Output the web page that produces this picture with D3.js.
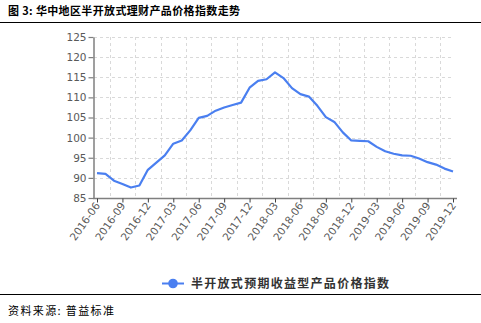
<!DOCTYPE html>
<html><head><meta charset="utf-8">
<script src="https://cdn.jsdelivr.net/npm/d3@7"></script>
<style>
html,body{margin:0;padding:0;background:#fff;}
svg{display:block;}
</style>
</head><body>
<svg id="c" width="481" height="323"></svg>
<script>
const titleText = "图 3: 华中地区半开放式理财产品价格指数走势";
const sourceText = "资料来源: 普益标准";
const seriesName = "半开放式预期收益型产品价格指数";
const months = [
 "2016-06","2016-07","2016-08","2016-09","2016-10","2016-11","2016-12",
 "2017-01","2017-02","2017-03","2017-04","2017-05","2017-06","2017-07","2017-08","2017-09","2017-10","2017-11","2017-12",
 "2018-01","2018-02","2018-03","2018-04","2018-05","2018-06","2018-07","2018-08","2018-09","2018-10","2018-11","2018-12",
 "2019-01","2019-02","2019-03","2019-04","2019-05","2019-06","2019-07","2019-08","2019-09","2019-10","2019-11","2019-12"];
const values = [
 91.2,91.0,89.3,88.5,87.6,88.1,92.0,
 93.8,95.6,98.5,99.3,101.8,104.9,105.4,106.7,107.5,108.1,108.7,112.4,
 114.1,114.5,116.2,114.8,112.3,110.8,110.2,107.9,105.1,103.9,101.3,99.3,
 99.2,99.1,97.7,96.6,96.0,95.6,95.5,94.8,93.9,93.3,92.3,91.6];
const tickLabels = ["2016-06","2016-09","2016-12","2017-03","2017-06","2017-09","2017-12",
 "2018-03","2018-06","2018-09","2018-12","2019-03","2019-06","2019-09","2019-12"];
const yTicks = [85,90,95,100,105,110,115,120,125];

const svg = d3.select("#c");
const blue = "#4a7ff0";
const axisCol = "#7f7f7f";
const labCol = "#595959";
const font = "'DejaVu Sans', Verdana, sans-serif";
const cjk = "'Noto Sans CJK SC', sans-serif";

const x = d3.scalePoint().domain(months).range([97, 453]);
const y = d3.scaleLinear().domain([85,125]).range([198, 37]);
const step = x.step();

// title
svg.append("text").attr("x", 8).attr("y", 15).text(titleText)
  .attr("font-family", cjk).attr("font-size", 11).attr("font-weight", "bold")
  .attr("fill", "#000").attr("textLength", 232).attr("lengthAdjust","spacing");
svg.append("line").attr("x1",0).attr("x2",481).attr("y1",22.5).attr("y2",22.5)
  .attr("stroke","#000").attr("stroke-width",1.2);

// horizontal grid
svg.append("g").selectAll("line").data(yTicks.filter(d=>d>85)).join("line")
  .attr("x1", 94).attr("x2", 454)
  .attr("y1", d=>Math.round(y(d))+0.5).attr("y2", d=>Math.round(y(d))+0.5)
  .attr("stroke","#d9d9d9").attr("stroke-width",1).attr("stroke-dasharray","3,3");

// vertical grid at midpoints between labeled ticks
const gridX = tickLabels.slice(0,-1).map(m => x(m) + 1.5*step);
svg.append("g").selectAll("line").data(gridX).join("line")
  .attr("x1", d=>Math.round(d)+0.5).attr("x2", d=>Math.round(d)+0.5)
  .attr("y1", 37).attr("y2", 198)
  .attr("stroke","#d9d9d9").attr("stroke-width",1).attr("stroke-dasharray","3,3");

// y axis
const yAxis = d3.axisLeft(y).tickValues(yTicks).tickSize(5).tickSizeOuter(0);
const gy = svg.append("g").attr("transform","translate(93.5,0)").call(yAxis);
gy.select(".domain").attr("stroke",axisCol).attr("stroke-width",1.5);
gy.selectAll(".tick line").attr("stroke",axisCol).attr("stroke-width",1.2);
gy.selectAll(".tick text").attr("fill",labCol).attr("font-family",font).attr("font-size",10.5).attr("x",-7);

// x axis
const xAxis = d3.axisBottom(x).tickValues(tickLabels).tickSize(4).tickSizeOuter(0);
const gx = svg.append("g").attr("transform","translate(0,198.5)").call(xAxis);
gx.select(".domain").attr("d","M93,0H457").attr("stroke",axisCol).attr("stroke-width",1.5);
gx.selectAll(".tick line").attr("stroke","#404040").attr("stroke-width",1);
gx.selectAll(".tick text").attr("fill",labCol).attr("font-family",font).attr("font-size",10.5)
  .attr("text-anchor","end").attr("dy",null).attr("y",0)
  .attr("transform","translate(3,7) rotate(-55)");

// line
svg.append("path").datum(values)
  .attr("d", d3.line().x((d,i)=>x(months[i])).y(d=>y(d)))
  .attr("fill","none").attr("stroke",blue).attr("stroke-width",2.2)
  .attr("stroke-linejoin","round");

// legend
const lg = svg.append("g");
lg.append("line").attr("x1",162).attr("x2",184).attr("y1",283.5).attr("y2",283.5)
  .attr("stroke",blue).attr("stroke-width",2);
lg.append("circle").attr("cx",173).attr("cy",283.5).attr("r",4.8).attr("fill",blue);
lg.append("text").attr("x",191).attr("y",288).text(seriesName)
  .attr("font-family",cjk).attr("font-size",12).attr("font-weight","bold").attr("fill","#333")
  .attr("textLength",198).attr("lengthAdjust","spacing");

// bottom rule and source
svg.append("line").attr("x1",0).attr("x2",481).attr("y1",294.5).attr("y2",294.5)
  .attr("stroke","#000").attr("stroke-width",1.2);
svg.append("text").attr("x",8).attr("y",315).text(sourceText)
  .attr("font-family",cjk).attr("font-size",11).attr("fill","#000")
  .attr("textLength",106).attr("lengthAdjust","spacing");
</script>
</body></html>
